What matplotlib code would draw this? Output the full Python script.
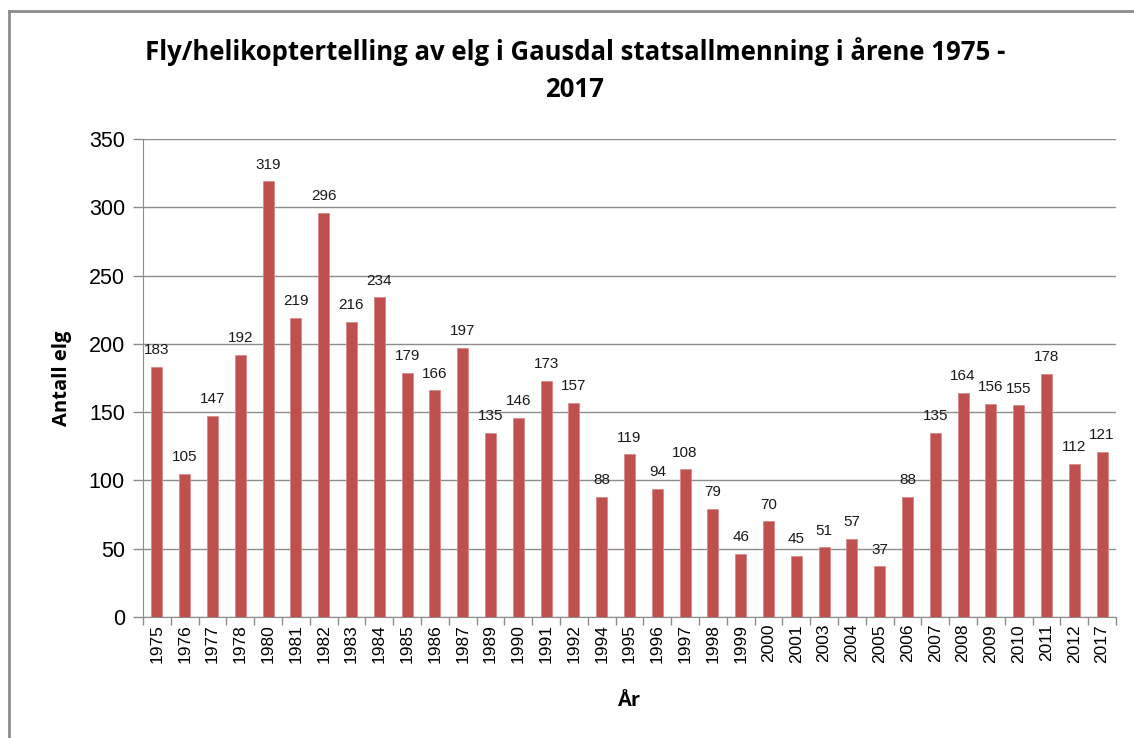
import matplotlib.pyplot as plt
from matplotlib.lines import Line2D

years = ["1975", "1976", "1977", "1978", "1980", "1981", "1982", "1983", "1984",
         "1985", "1986", "1987", "1989", "1990", "1991", "1992", "1994", "1995",
         "1996", "1997", "1998", "1999", "2000", "2001", "2003", "2004", "2005",
         "2006", "2007", "2008", "2009", "2010", "2011", "2012", "2017"]
counts = [183, 105, 147, 192, 319, 219, 296, 216, 234,
          179, 166, 197, 135, 146, 173, 157, 88, 119,
          94, 108, 79, 46, 70, 45, 51, 57, 37,
          88, 135, 164, 156, 155, 178, 112, 121]

bar_color = "#C0504D"
grid_color = "#8C8C8C"

fig = plt.figure(figsize=(11.34, 7.38), dpi=100)
ax = fig.add_axes([0.1261, 0.164, 0.858, 0.6477])

x = range(len(years))
bars = ax.bar(x, counts, width=0.4, color=bar_color, edgecolor="#D78A88",
              linewidth=0.6, zorder=3)

for xi, v in zip(x, counts):
    ax.annotate(str(v), (xi, v), xytext=(0, 7), textcoords="offset points",
                ha="center", va="bottom", fontsize=11, color="#1a1a1a",
                family="Liberation Sans")

ax.set_xlim(-0.5, len(years) - 0.5)
ax.set_ylim(0, 350)
ax.set_yticks(range(0, 351, 50))
ax.set_xticks([i - 0.5 for i in range(len(years) + 1)], minor=False)
ax.set_xticklabels([])
ax.set_xticks(list(x), minor=True)
ax.set_xticklabels(years, minor=True, rotation=90, fontsize=12.5,
                   family="Liberation Sans")
ax.tick_params(axis="x", which="minor", length=0, pad=5)
ax.tick_params(axis="x", which="major", length=6, color=grid_color, width=1)
ax.tick_params(axis="y", length=7, color=grid_color, width=1, labelsize=15.5,
               pad=6)
for lbl in ax.get_yticklabels():
    lbl.set_family("Liberation Sans")

ax.grid(axis="y", color=grid_color, linewidth=1, zorder=0)
for side in ["top", "right"]:
    ax.spines[side].set_visible(False)
ax.spines["left"].set_color(grid_color)
ax.spines["bottom"].set_color(grid_color)

ax.set_ylabel("Antall elg", fontsize=14.5, fontweight="bold", family="Open Sans",
              labelpad=12)
ax.set_xlabel("År", fontsize=14.5, fontweight="bold", family="Open Sans",
              labelpad=20)

fig.text(0.507, 0.905, "Fly/helikoptertelling av elg i Gausdal statsallmenning i årene 1975 -\n2017",
         ha="center", va="center", fontsize=18.5, fontweight="bold",
         family="Open Sans", linespacing=1.45)

# chart frame (top and left edges visible)
fig.add_artist(Line2D([9 / 1134, 1], [1 - 11 / 738, 1 - 11 / 738],
                      color="#8C8C8C", linewidth=2, transform=fig.transFigure))
fig.add_artist(Line2D([9 / 1134, 9 / 1134], [0, 1 - 11 / 738],
                      color="#8C8C8C", linewidth=2, transform=fig.transFigure))

fig.savefig("out.png", dpi=100)
